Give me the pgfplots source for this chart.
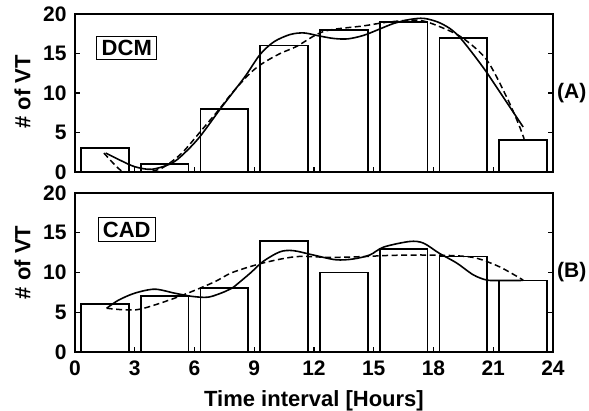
\documentclass[border=0pt]{standalone}
\usepackage{pgfplots}
\pgfplotsset{compat=1.18}
\usepackage{fontspec}
\setmainfont{Liberation Sans}

\pgfplotsset{
  vtpanel/.style={
    scale only axis, width=478pt,
    xmin=0, xmax=24, ymin=0, ymax=20,
    xtick={0,3,...,24}, ytick={0,5,...,20},
    tick align=inside, xtick pos=left, ytick pos=both,
    major tick length=5pt,
    axis line style={line width=1.8pt},
    every tick/.style={black, line width=1.3pt},
    tick label style={font=\fontsize{21}{21}\selectfont\bfseries},
    xticklabel style={yshift=-5pt, text height=15pt, text depth=0pt},
    yticklabel style={xshift=-5pt},
    /pgf/number format/assume math mode=true,
    clip mode=individual,
  },
  bars/.style={ybar, bar shift=0pt, bar width=2.4, draw=black, fill=none,
    line width=1.8pt, line join=miter},
  fit/.style={smooth, black, line width=1.6pt, no markers},
  trend/.style={smooth, black, line width=1.5pt, no markers,
    dash pattern=on 6pt off 3.5pt},
}

\begin{document}
\begin{tikzpicture}
\useasboundingbox (0,0) rectangle (589pt,411pt);

% (A) DCM
\begin{axis}[vtpanel, height=158pt, at={(75pt,239pt)}, anchor=south west,
  xticklabels={}]
\addplot[bars] coordinates {(1.5,3) (4.5,1) (7.5,8) (10.5,16) (13.5,18) (16.5,19) (19.5,17) (22.5,4)};
\addplot[fit] coordinates {
  (1.54,2.4) (2.3,1.45) (3.0,0.67) (3.85,0.34) (4.85,1.1) (5.5,2.4)
  (6.27,4.47) (7.3,8.0) (8.0,10.3) (8.6,12.3) (9.3,14.9) (10.0,16.5)
  (10.8,17.4) (11.5,17.6) (12.3,17.2) (13.0,16.9) (13.7,16.85) (14.5,17.3)
  (15.3,18.1) (16.0,18.8) (16.8,19.3) (17.5,19.45) (18.2,19.0) (18.8,18.2)
  (19.3,17.1) (20.0,14.9) (20.7,12.5) (21.6,9.1) (22.5,5.7)};
\addplot[trend] coordinates {
  (1.45,2.4) (2.0,0.9) (2.4,0.05) (3.0,-0.3) (3.7,0.0) (4.35,0.47)
  (5.0,1.6) (5.52,2.8) (6.36,5.3) (7.28,8.06) (7.87,9.96) (8.79,12.5)
  (9.45,13.8) (10.3,15.0) (11.13,15.9) (12.5,17.8) (14.5,18.5) (15.8,19.0)
  (17.3,19.2) (18.5,18.2) (19.5,16.9) (20.67,14.2) (21.67,9.5) (22.25,6.2)
  (22.55,4.2)};
\node[draw, line width=0.8pt, inner xsep=5pt, inner ysep=4pt,
  font=\fontsize{22}{22}\selectfont\bfseries] at (axis cs:2.6,15.7) {DCM};
\node[anchor=west, inner sep=0pt, xshift=4pt,
  font=\fontsize{21}{21}\selectfont\bfseries] at (rel axis cs:1,0.5) {(A)};
\end{axis}

% (B) CAD
\begin{axis}[vtpanel, height=159pt, at={(75pt,59pt)}, anchor=south west]
\addplot[bars] coordinates {(1.5,6) (4.5,7) (7.5,8) (10.5,14) (13.5,10) (16.5,13) (19.5,12) (22.5,9)};
\addplot[fit] coordinates {
  (1.59,5.5) (2.17,6.5) (3.0,7.4) (4.0,7.9) (5.0,7.4) (5.86,7.0)
  (6.7,6.9) (7.53,7.6) (7.9,8.05) (8.79,9.9) (9.45,11.4) (10.29,12.6)
  (10.96,12.75) (11.96,12.2) (13.1,11.6) (13.97,11.7) (14.8,12.2)
  (15.5,13.2) (16.8,13.9) (17.49,13.7) (18.3,12.4) (19.16,11.2)
  (20.0,9.7) (20.67,9.05) (21.3,9.0) (22.5,9.0)};
\addplot[trend] coordinates {
  (1.59,5.5) (2.5,5.3) (3.3,5.4) (4.7,6.5) (5.86,7.6) (7.03,8.85)
  (7.9,10.0) (9.45,11.2) (11.13,12.0) (12.8,11.9) (14.47,12.0)
  (15.8,12.15) (17.5,12.2) (19.16,12.1) (20.16,11.8) (21.33,10.7)
  (22.5,9.05)};
\node[draw, line width=0.8pt, inner xsep=5pt, inner ysep=4pt,
  font=\fontsize{22}{22}\selectfont\bfseries] at (axis cs:2.6,15.4) {CAD};
\node[anchor=west, inner sep=0pt, xshift=4pt,
  font=\fontsize{21}{21}\selectfont\bfseries] at (rel axis cs:1,0.5) {(B)};
\end{axis}

% shared labels
\node[rotate=90, inner sep=0pt, font=\fontsize{22}{22}\selectfont\bfseries]
  at (22.5pt,319pt) {\# of VT};
\node[rotate=90, inner sep=0pt, font=\fontsize{22}{22}\selectfont\bfseries]
  at (22.5pt,148.5pt) {\# of VT};
\node[anchor=base, inner sep=0pt, font=\fontsize{22}{22}\selectfont\bfseries]
  at (314pt,4.5pt) {Time interval [Hours]};
\end{tikzpicture}
\end{document}
